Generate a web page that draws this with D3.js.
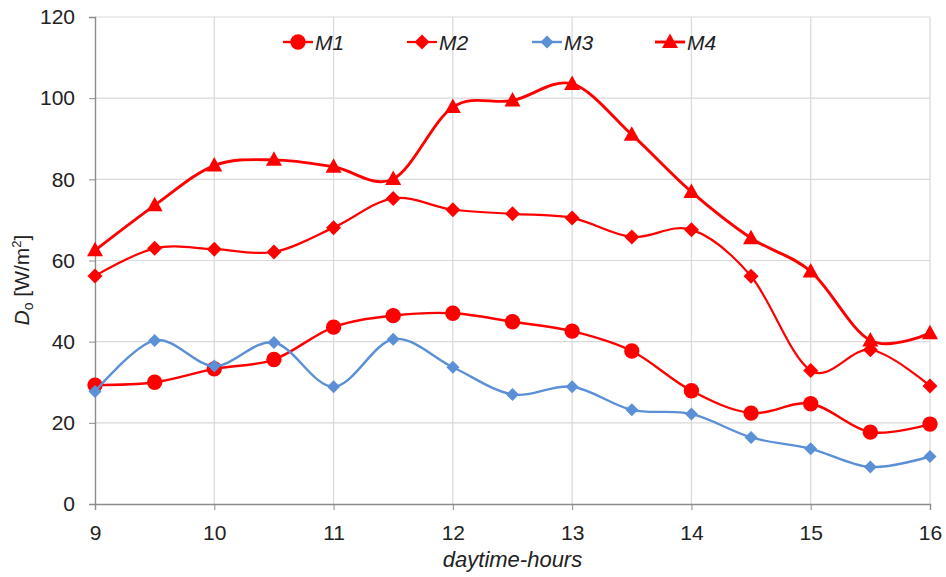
<!DOCTYPE html>
<html>
<head>
<meta charset="utf-8">
<script src="https://cdn.jsdelivr.net/npm/d3@7"></script>
<style>
  html, body { margin: 0; padding: 0; background: #fff; }
  svg { display: block; font-family: "Liberation Sans", Arial, sans-serif; }
</style>
</head>
<body>
<svg id="chart" width="946" height="577"></svg>
<script>
// Hours of the day at which D_o was measured
const hours = [9, 9.5, 10, 10.5, 11, 11.5, 12, 12.5, 13, 13.5, 14, 14.5, 15, 15.5, 16];

// D_o [W/m²] for each configuration
const m1 = [29.3, 30.0, 33.3, 35.6, 43.6, 46.4, 47.0, 44.9, 42.6, 37.7, 27.9, 22.4, 24.7, 17.7, 19.7];
const m2 = [56.2, 63.0, 62.8, 62.1, 68.1, 75.3, 72.5, 71.5, 70.5, 65.8, 67.6, 56.1, 32.9, 38.0, 29.1];
const m3 = [27.7, 40.3, 34.0, 39.8, 28.9, 40.6, 33.7, 27.0, 28.9, 23.2, 22.2, 16.4, 13.6, 9.1, 11.7];
const m4 = [62.5, 73.6, 83.4, 84.8, 83.1, 80.1, 97.8, 99.4, 103.5, 91.0, 76.9, 65.5, 57.3, 40.3, 42.1];

const seriesNames = ["M1", "M2", "M3", "M4"];
const xTicks = [9, 10, 11, 12, 13, 14, 15, 16];
const yTicks = [0, 20, 40, 60, 80, 100, 120];

const series = [
  { name: seriesNames[0], values: m1, color: "#ff0000", marker: "circle",   width: 2.4 },
  { name: seriesNames[1], values: m2, color: "#ff0000", marker: "diamond",  width: 2.2, size: 7.5 },
  { name: seriesNames[2], values: m3, color: "#5b8fd6", marker: "diamond",  width: 2.4, size: 6.5 },
  { name: seriesNames[3], values: m4, color: "#ff0000", marker: "triangle", width: 2.9 }
];

const svg = d3.select("#chart");
const margin = { left: 95, right: 16, top: 17, bottom: 73 };
const W = 946, H = 577;

const x = d3.scaleLinear().domain([9, 16]).range([margin.left, W - margin.right]);
const y = d3.scaleLinear().domain([0, 120]).range([H - margin.bottom, margin.top]);

const gridColor = "#d9d9d9";
const axisColor = "#8c8c8c";
const fontSize = 21;

// Gridlines
svg.append("g")
  .selectAll("line")
  .data(yTicks.filter(d => d > 0))
  .join("line")
  .attr("x1", x(9)).attr("x2", x(16))
  .attr("y1", d => y(d)).attr("y2", d => y(d))
  .attr("stroke", gridColor).attr("stroke-width", 1.2);

svg.append("g")
  .selectAll("line")
  .data(xTicks.filter(d => d > 9))
  .join("line")
  .attr("x1", d => x(d)).attr("x2", d => x(d))
  .attr("y1", y(0)).attr("y2", y(120))
  .attr("stroke", gridColor).attr("stroke-width", 1.2);

// Axes
const yAxis = d3.axisLeft(y).tickValues(yTicks).tickSize(6).tickPadding(14);
const gy = svg.append("g").attr("transform", `translate(${x(9)},0)`).call(yAxis);
gy.select(".domain").attr("stroke", axisColor).attr("stroke-width", 1.4);
gy.selectAll(".tick line").attr("stroke", axisColor);
gy.selectAll(".tick text").attr("font-size", fontSize).attr("fill", "#222")
  .attr("font-family", "Liberation Sans, Arial, sans-serif");

const xAxis = d3.axisBottom(x).tickValues(xTicks).tickSize(6).tickPadding(15).tickFormat(d3.format("d"));
const gx = svg.append("g").attr("transform", `translate(0,${y(0)})`).call(xAxis);
gx.select(".domain").attr("stroke", axisColor).attr("stroke-width", 1.4);
gx.selectAll(".tick line").attr("stroke", axisColor);
gx.selectAll(".tick text").attr("font-size", fontSize).attr("fill", "#222")
  .attr("font-family", "Liberation Sans, Arial, sans-serif");

// Axis titles
svg.append("text")
  .attr("x", (x(9) + x(16)) / 2).attr("y", 567)
  .attr("text-anchor", "middle")
  .attr("font-size", 22).attr("font-style", "italic").attr("fill", "#222")
  .text("daytime-hours");

const yTitle = svg.append("text")
  .attr("transform", `translate(28.5,280) rotate(-90)`)
  .attr("text-anchor", "middle")
  .attr("font-size", fontSize).attr("fill", "#222");
yTitle.append("tspan").attr("font-style", "italic").text("D");
yTitle.append("tspan").attr("font-size", 14).attr("dy", 4).text("o");
yTitle.append("tspan").attr("dy", -4).text(" [W/m");
yTitle.append("tspan").attr("font-size", 13).attr("dy", -8).text("2");
yTitle.append("tspan").attr("dy", 8).text("]");

// Marker shapes
function markerPath(s) {
  if (s.marker === "circle") return d3.symbol(d3.symbolCircle, 185)();
  if (s.marker === "triangle") return "M0,-8.5L8,6L-8,6Z";
  const r = s.size;
  return `M0,${-r}L${r},0L0,${r}L${-r},0Z`;
}

const line = d3.line()
  .x((d, i) => x(hours[i]))
  .y(d => y(d))
  .curve(d3.curveCardinal.tension(0));

// Series lines and markers
series.forEach(s => {
  const g = svg.append("g");
  g.append("path")
    .datum(s.values)
    .attr("d", line)
    .attr("fill", "none")
    .attr("stroke", s.color)
    .attr("stroke-width", s.width);
  g.selectAll("path.mk")
    .data(s.values)
    .join("path")
    .attr("class", "mk")
    .attr("d", markerPath(s))
    .attr("transform", (d, i) => `translate(${x(hours[i])},${y(d)})`)
    .attr("fill", s.color);
});

// Legend
const legendX = [283, 407, 532, 655];
const legend = svg.append("g");
series.forEach((s, i) => {
  const lg = legend.append("g").attr("transform", `translate(${legendX[i]},42)`);
  lg.append("line").attr("x1", 0).attr("x2", 30).attr("y1", 0).attr("y2", 0)
    .attr("stroke", s.color).attr("stroke-width", s.width);
  lg.append("path").attr("d", markerPath(s))
    .attr("transform", "translate(15,0)").attr("fill", s.color);
  lg.append("text").attr("x", 32).attr("y", 8)
    .attr("font-size", fontSize).attr("font-style", "italic").attr("fill", "#222")
    .text(s.name);
});
</script>
</body>
</html>
